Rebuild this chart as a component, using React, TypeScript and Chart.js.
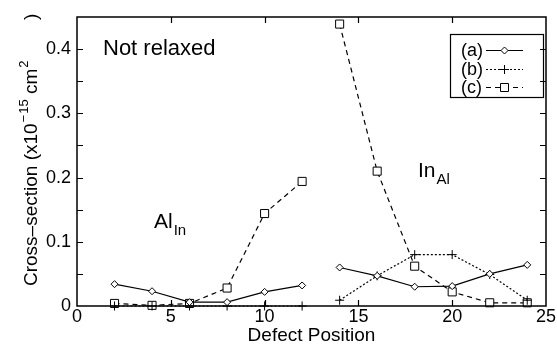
import React, { useEffect, useRef } from "react";
import { Chart, registerables } from "chart.js";

Chart.register(...registerables);

const positions = [2, 4, 6, 8, 10, 12, 13, 14, 16, 18, 20, 22, 24];
const seriesA = [0.034, 0.023, 0.006, 0.006, 0.022, 0.032, null, 0.060, 0.047, 0.030, 0.031, 0.050, 0.064];
const seriesB = [0, 0, 0, 0, 0, 0, null, 0.009, 0.047, 0.080, 0.080, 0.049, 0.009];
const seriesC = [0.004, 0.001, 0.004, 0.028, 0.144, 0.194, null, 0.439, 0.210, 0.062, 0.022, 0.005, 0.005];

const xTicks = [0, 5, 10, 15, 20, 25];
const yTicks = [0, 0.1, 0.2, 0.3, 0.4];
const yMinorTicks = [0.05, 0.1, 0.15, 0.2, 0.25, 0.3, 0.35, 0.4];
const xInnerTicks = [5, 10, 15, 20];
const legendLabels = ["(a)", "(b)", "(c)"];

const FONT = "'Liberation Sans', Arial, Helvetica, sans-serif";

function toPoints(vals: (number | null)[]) {
  return positions.map((x, i) => ({ x, y: vals[i] }));
}

function drawMarker(ctx: CanvasRenderingContext2D, kind: string, x: number, y: number) {
  ctx.save();
  ctx.setLineDash([]);
  ctx.lineWidth = 1;
  ctx.strokeStyle = "#000";
  ctx.fillStyle = "#fff";
  ctx.beginPath();
  if (kind === "diamond") {
    const r = 3.5;
    ctx.moveTo(x, y - r);
    ctx.lineTo(x + r, y);
    ctx.lineTo(x, y + r);
    ctx.lineTo(x - r, y);
    ctx.closePath();
    ctx.fill();
    ctx.stroke();
  } else if (kind === "plus") {
    const r = 4.5;
    ctx.moveTo(x - r, y);
    ctx.lineTo(x + r, y);
    ctx.moveTo(x, y - r);
    ctx.lineTo(x, y + r);
    ctx.stroke();
  } else {
    const r = 4;
    ctx.rect(x - r, y - r, 2 * r, 2 * r);
    ctx.fill();
    ctx.stroke();
  }
  ctx.restore();
}

const decorPlugin = {
  id: "decor",
  afterDraw(chart: any) {
    const ctx: CanvasRenderingContext2D = chart.ctx;
    const { left, right, top, bottom } = chart.chartArea;
    const xs = chart.scales.x;
    const ys = chart.scales.y;
    ctx.save();
    ctx.strokeStyle = "#000";
    ctx.fillStyle = "#000";
    ctx.setLineDash([]);
    // frame
    ctx.lineWidth = 1.5;
    ctx.strokeRect(left, top, right - left, bottom - top);
    // ticks
    ctx.lineWidth = 1.2;
    ctx.beginPath();
    for (const v of yMinorTicks) {
      const py = Math.round(ys.getPixelForValue(v)) + 0.5;
      ctx.moveTo(left, py);
      ctx.lineTo(left + 6, py);
      ctx.moveTo(right, py);
      ctx.lineTo(right - 6, py);
    }
    for (const v of xInnerTicks) {
      const px = Math.round(xs.getPixelForValue(v)) + 0.5;
      ctx.moveTo(px, bottom);
      ctx.lineTo(px, bottom - 6);
      ctx.moveTo(px, top);
      ctx.lineTo(px, top + 6);
    }
    ctx.stroke();

    // annotations
    ctx.textBaseline = "alphabetic";
    ctx.textAlign = "left";
    ctx.font = `22px ${FONT}`;
    ctx.fillText("Not relaxed", 103, 55);

    ctx.font = `21px ${FONT}`;
    ctx.fillText("Al", 154, 228);
    let w = ctx.measureText("Al").width;
    ctx.font = `15px ${FONT}`;
    ctx.fillText("In", 154 + w + 1, 235);

    ctx.font = `21px ${FONT}`;
    ctx.fillText("In", 418, 177);
    w = ctx.measureText("In").width;
    ctx.font = `15px ${FONT}`;
    ctx.fillText("Al", 418 + w + 1, 184);

    // legend box
    ctx.lineWidth = 1.2;
    ctx.strokeRect(450.5, 34.5, 93, 63);
    ctx.font = `18px ${FONT}`;
    ctx.textBaseline = "middle";
    const rows = [50, 69, 87];
    const dashes = [[], [2, 2], [5, 4]];
    const kinds = ["diamond", "plus", "square"];
    rows.forEach((ry, i) => {
      ctx.fillStyle = "#000";
      ctx.fillText(legendLabels[i], 461, ry + 1);
      ctx.beginPath();
      ctx.setLineDash(dashes[i]);
      ctx.lineWidth = 1.2;
      ctx.moveTo(486, ry + 0.5);
      ctx.lineTo(523, ry + 0.5);
      ctx.stroke();
      ctx.setLineDash([]);
      drawMarker(ctx, kinds[i], 504.5, ry + 0.5);
    });

    // x title
    ctx.fillStyle = "#000";
    ctx.textAlign = "center";
    ctx.textBaseline = "alphabetic";
    ctx.font = `19px ${FONT}`;
    ctx.fillText("Defect Position", (left + right) / 2, 341);

    // y title (rotated)
    ctx.save();
    ctx.translate(37, 286);
    ctx.rotate(-Math.PI / 2);
    ctx.textAlign = "left";
    let cx = 0;
    ctx.font = `19px ${FONT}`;
    const p1 = "Cross\u2013section (x10";
    ctx.fillText(p1, cx, 0);
    cx += ctx.measureText(p1).width + 1;
    ctx.font = `13px ${FONT}`;
    ctx.fillText("\u2212", cx, -9);
    cx += ctx.measureText("\u2212").width + 1;
    ctx.fillText("15", cx, -9);
    cx += ctx.measureText("15").width;
    ctx.font = `19px ${FONT}`;
    ctx.fillText(" cm", cx, 0);
    cx += ctx.measureText(" cm").width + 1;
    ctx.font = `13px ${FONT}`;
    ctx.fillText("2", cx, -9);
    ctx.font = `19px ${FONT}`;
    ctx.fillText(")", 266, 0);
    ctx.restore();

    ctx.restore();
  },
};

export default function App() {
  const ref = useRef<HTMLCanvasElement | null>(null);

  useEffect(() => {
    document.body.style.margin = "0";
    const canvas = ref.current;
    if (!canvas) return;
    const common = {
      borderColor: "#000",
      borderWidth: 1.2,
      pointBorderColor: "#000",
      pointBackgroundColor: "#fff",
      pointBorderWidth: 1,
      spanGaps: false,
      clip: false as any,
      tension: 0,
    };
    const chart = new Chart(canvas, {
      type: "line",
      data: {
        datasets: [
          {
            ...common,
            label: "(a)",
            data: toPoints(seriesA),
            pointStyle: "rectRot",
            pointRadius: 3.5,
          },
          {
            ...common,
            label: "(b)",
            data: toPoints(seriesB),
            borderDash: [2, 2],
            pointStyle: "cross",
            pointRadius: 4.5,
          },
          {
            ...common,
            label: "(c)",
            data: toPoints(seriesC),
            borderDash: [5, 4],
            pointStyle: "rect",
            pointRadius: 5.7,
          },
        ] as any,
      },
      options: {
        responsive: false,
        animation: false,
        devicePixelRatio: 1,
        layout: { padding: { top: 17, right: 11, left: 0, bottom: 0 } },
        plugins: {
          legend: { display: false },
          tooltip: { enabled: false },
        },
        scales: {
          x: {
            type: "linear",
            min: 0,
            max: 25,
            afterBuildTicks: (s: any) => {
              s.ticks = xTicks.map((v) => ({ value: v }));
            },
            afterFit: (s: any) => {
              s.height = 41;
            },
            ticks: {
              color: "#000",
              font: { family: FONT, size: 18 },
              padding: 0,
              maxRotation: 0,
              autoSkip: false,
            },
            grid: { display: false, drawTicks: false },
            border: { display: false },
          },
          y: {
            type: "linear",
            min: 0,
            max: 0.45,
            afterBuildTicks: (s: any) => {
              s.ticks = yTicks.map((v) => ({ value: v }));
            },
            afterFit: (s: any) => {
              s.width = 77;
            },
            ticks: {
              color: "#000",
              font: { family: FONT, size: 18 },
              padding: 6,
              callback: (v: any) => (v === 0 ? "0" : Number(v).toFixed(1)),
            },
            grid: { display: false, drawTicks: false },
            border: { display: false },
          },
        },
      } as any,
      plugins: [decorPlugin],
    });
    return () => chart.destroy();
  }, []);

  return (
    <div style={{ position: "absolute", left: 0, top: 0, width: 557, height: 347, background: "#fff" }}>
      <canvas ref={ref} width={557} height={347} style={{ width: 557, height: 347 }} />
    </div>
  );
}
